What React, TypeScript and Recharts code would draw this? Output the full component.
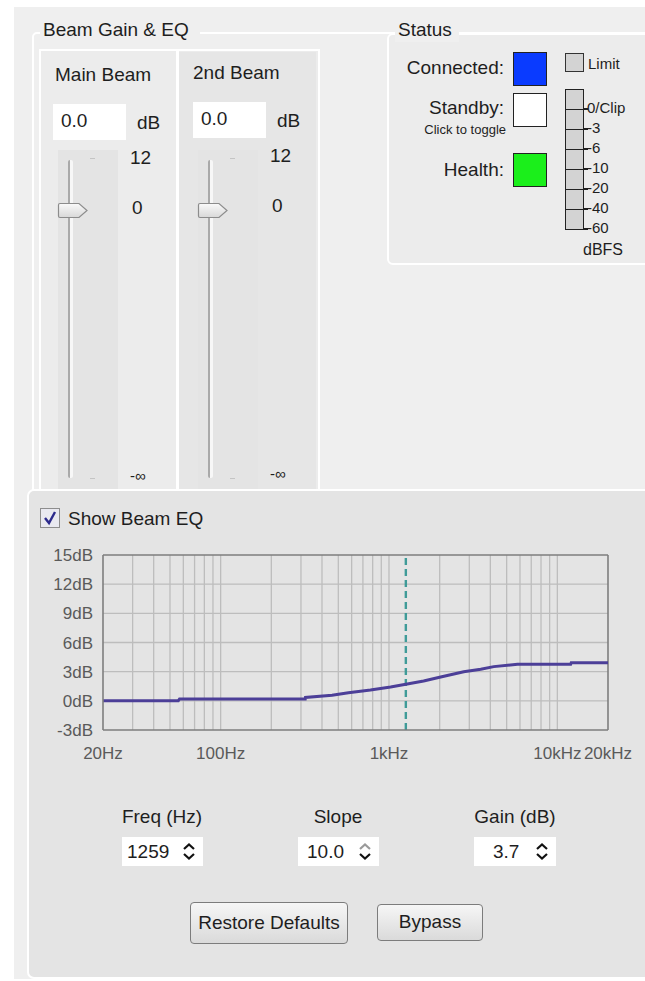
import { LineChart, Line, XAxis, YAxis, CartesianGrid, ReferenceLine } from 'recharts'

// EQ response
const freqHz = [20, 56, 57, 318, 319, 459, 574, 776, 1022, 1259, 1606, 2028, 2780, 3508, 4192, 5801, 12000, 12100, 20000]
const gainDb = [0, 0, 0.2, 0.2, 0.35, 0.57, 0.84, 1.11, 1.42, 1.7, 2.04, 2.45, 3.0, 3.24, 3.52, 3.76, 3.76, 3.93, 3.93]
const eqData = freqHz.map((f, i) => ({ freq: f, gain: gainDb[i] }))

const dbTicks = [-3, 0, 3, 6, 9, 12, 15]
const dbGrid = [0, 3, 6, 9, 12]
const hzTicks = [20, 100, 1000, 10000, 20000]
const hzTickLabels = ['20Hz', '100Hz', '1kHz', '10kHz', '20kHz']
const hzGrid = [30, 40, 50, 60, 70, 80, 90, 100, 200, 300, 400, 500, 600, 700, 800, 900, 1000, 2000, 3000, 4000, 5000, 6000, 7000, 8000, 9000, 10000]
const centerHz = 1259

const meterLabels = ['0/Clip', '-3', '-6', '-10', '-20', '-40', '-60']

const ink = '#1e1e1e'

const T = ({ x, y, size = 19, children, right = false, color = ink, w }: any) => (
  <div
    style={{
      position: 'absolute',
      top: y - size * 0.6,
      left: right ? undefined : x,
      right: right ? 645 - x : undefined,
      width: w,
      fontSize: size,
      lineHeight: `${size * 1.2}px`,
      color,
      whiteSpace: 'nowrap',
      textAlign: w ? 'center' : undefined,
    }}
  >
    {children}
  </div>
)

const Box = ({ x, y, w, h, style }: any) => (
  <div style={{ position: 'absolute', left: x, top: y, width: w, height: h, boxSizing: 'border-box', ...style }} />
)

const Thumb = ({ x, y }: any) => (
  <svg style={{ position: 'absolute', left: x, top: y }} width={33} height={17}>
    <defs>
      <linearGradient id="th" x1="0" y1="0" x2="0" y2="1">
        <stop offset="0" stopColor="#fafafa" />
        <stop offset="1" stopColor="#d8d8d8" />
      </linearGradient>
    </defs>
    <path d="M3 1.5 H22 L30 8.5 L22 15.5 H3 Q1.5 15.5 1.5 14 V3 Q1.5 1.5 3 1.5 Z" fill="url(#th)" stroke="#8c8c8c" strokeWidth={1.2} />
  </svg>
)

const Slider = ({ x, y }: any) => (
  <>
    <Box x={x} y={y} w={60} h={340} style={{ background: '#e4e4e4' }} />
    <Box x={x + 10} y={y + 10} w={5} h={318} style={{ background: '#f7f7f7', borderLeft: '2px solid #a9a9a9', borderRadius: 2 }} />
    <Box x={x + 32} y={y + 8} w={5} h={1} style={{ background: '#c4c4c4' }} />
    <Box x={x + 32} y={y + 328} w={5} h={1} style={{ background: '#c4c4c4' }} />
    <Thumb x={x - 1} y={y + 52} />
  </>
)

const Spin = ({ x, y, upDim = false }: any) => (
  <svg style={{ position: 'absolute', left: x, top: y }} width={14} height={22}>
    <polyline points="2,8 7,3.5 12,8" fill="none" stroke={upDim ? '#9a9a9a' : '#111'} strokeWidth={2.2} />
    <polyline points="2,13 7,17.5 12,13" fill="none" stroke="#111" strokeWidth={2.2} />
  </svg>
)

const Button = ({ x, y, w, h, label }: any) => (
  <div
    style={{
      position: 'absolute',
      left: x,
      top: y,
      width: w,
      height: h,
      boxSizing: 'border-box',
      border: '1.5px solid #7c7c7c',
      borderRadius: 4,
      background: 'linear-gradient(#f6f6f6, #dadada)',
      fontSize: 19,
      lineHeight: `${h - 3}px`,
      textAlign: 'center',
      color: ink,
    }}
  >
    {label}
  </div>
)

const EqChart = () => (
  <LineChart width={600} height={230} data={eqData} margin={{ top: 15, right: 32, left: 0, bottom: 0 }}>
    <CartesianGrid stroke="#bdbdbd" strokeWidth={1.3} verticalValues={hzGrid} horizontalValues={dbGrid} />
    <XAxis
      dataKey="freq"
      type="number"
      scale="log"
      domain={[20, 20000]}
      ticks={hzTicks}
      tickFormatter={(v: number) => hzTickLabels[hzTicks.indexOf(v)]}
      tickLine={false}
      tickSize={6}
      tickMargin={11}
      height={40}
      interval={0}
      axisLine={{ stroke: '#7e7e7e', strokeWidth: 1.6 }}
      tick={{ fill: '#5a5a5a', fontSize: 17 }}
      allowDataOverflow
    />
    <YAxis
      type="number"
      domain={[-3, 15]}
      ticks={dbTicks}
      tickFormatter={(v: number) => `${v}dB`}
      tickLine={false}
      tickSize={6}
      tickMargin={4}
      width={63}
      interval={0}
      axisLine={{ stroke: '#7e7e7e', strokeWidth: 1.6 }}
      tick={{ fill: '#5a5a5a', fontSize: 17 }}
    />
    <ReferenceLine y={15} stroke="#7e7e7e" strokeWidth={1.6} />
    <ReferenceLine x={20000} stroke="#7e7e7e" strokeWidth={1.6} />
    <ReferenceLine x={centerHz} stroke="#3f9b98" strokeWidth={2.4} strokeDasharray="7 4" />
    <Line type="linear" dataKey="gain" stroke="#4c3f98" strokeWidth={3} dot={false} isAnimationActive={false} />
  </LineChart>
)

export default function App() {
  return (
    <div
      style={{
        position: 'absolute',
        left: 0,
        top: 0,
        width: 645,
        height: 981,
        background: '#ffffff',
        overflow: 'hidden',
        fontFamily: '"Liberation Sans", Arial, sans-serif',
      }}
    >
      {/* window body */}
      <Box x={14} y={7} w={640} h={972} style={{ background: '#efefef' }} />

      {/* Beam Gain & EQ group */}
      <Box x={32} y={32} w={640} h={470} style={{ border: '2px solid #fff', borderRadius: 5 }} />
      <div style={{ position: 'absolute', left: 40, top: 20, width: 160, height: 22, background: '#efefef' }} />
      <T x={43} y={30}>Beam Gain &amp; EQ</T>

      {/* beam panels */}
      <Box x={39} y={49} w={281} h={443} style={{ border: '2px solid #fff', background: '#ececec' }} />
      <Box x={176} y={49} w={3} h={443} style={{ background: '#fff' }} />
      <Box x={179} y={52} w={137} h={438} style={{ background: '#e6e6e6' }} />

      <T x={55} y={75}>Main Beam</T>
      <Box x={53} y={104} w={73} h={36} style={{ background: '#fff' }} />
      <T x={61} y={121}>0.0</T>
      <T x={137} y={123}>dB</T>
      <Slider x={58} y={150} />
      <T x={130} y={158}>12</T>
      <T x={132} y={208}>0</T>
      <T x={130} y={476} size={15}>-∞</T>

      <T x={193} y={73}>2nd Beam</T>
      <Box x={193} y={102} w={73} h={36} style={{ background: '#fff' }} />
      <T x={201} y={119}>0.0</T>
      <T x={277} y={121}>dB</T>
      <Slider x={198} y={150} />
      <T x={270} y={156}>12</T>
      <T x={272} y={206}>0</T>
      <T x={270} y={474} size={15}>-∞</T>

      {/* Status group */}
      <Box x={387} y={33} w={300} h={232} style={{ border: '2px solid #fff', borderRadius: 6, background: '#ececec' }} />
      <div style={{ position: 'absolute', left: 395, top: 20, width: 64, height: 22, background: '#efefef' }} />
      <T x={398} y={30}>Status</T>

      <T x={504} y={68} right>Connected:</T>
      <Box x={513} y={52} w={34} h={34} style={{ background: '#0a3bff', border: '1.5px solid #222' }} />
      <T x={504} y={108} right>Standby:</T>
      <T x={506} y={130} size={13} right>Click to toggle</T>
      <Box x={513} y={93} w={34} h={34} style={{ background: '#fff', border: '1.5px solid #222' }} />
      <T x={504} y={170} right>Health:</T>
      <Box x={513} y={153} w={34} h={34} style={{ background: '#1bef1b', border: '1.5px solid #222' }} />

      <Box x={565} y={53} w={19} h={19} style={{ background: '#d3d3d3', border: '1.5px solid #333' }} />
      <T x={588} y={64} size={15}>Limit</T>
      {meterLabels.map((lab, i) => (
        <div key={lab}>
          <Box x={565} y={89 + i * 20} w={19} h={21} style={{ background: '#d3d3d3', border: '1.5px solid #222' }} />
          <Box x={583} y={108 + i * 20} w={5} h={2} style={{ background: '#222' }} />
          <T x={587} y={108 + i * 20} size={15}>{lab}</T>
        </div>
      ))}
      <T x={583} y={250} size={16}>dBFS</T>

      {/* EQ panel */}
      <Box x={27} y={489} w={640} h={490} style={{ border: '2.5px solid #fff', borderRadius: 7, background: '#e4e4e4' }} />
      <Box x={40} y={508} w={20} h={20} style={{ border: '1.5px solid #8d8d8d', background: '#e9e9f0' }} />
      <svg style={{ position: 'absolute', left: 42, top: 510 }} width={16} height={16}>
        <polyline points="3,8 7,13 13,2" fill="none" stroke="#2c2a8c" strokeWidth={2.4} />
      </svg>
      <T x={68} y={519}>Show Beam EQ</T>

      <div style={{ position: 'absolute', left: 40, top: 540 }}>
        <EqChart />
      </div>

      <T x={100} y={817} w={124}>Freq (Hz)</T>
      <Box x={122} y={837} w={81} h={29} style={{ background: '#fff' }} />
      <T x={127} y={852}>1259</T>
      <Spin x={182} y={841} />

      <T x={276} y={817} w={124}>Slope</T>
      <Box x={298} y={837} w={81} h={29} style={{ background: '#fff' }} />
      <T x={307} y={852}>10.0</T>
      <Spin x={358} y={841} upDim />

      <T x={453} y={817} w={124}>Gain (dB)</T>
      <Box x={474} y={837} w={82} h={29} style={{ background: '#fff' }} />
      <T x={493} y={852}>3.7</T>
      <Spin x={535} y={841} />

      <Button x={190} y={902} w={158} h={42} label="Restore Defaults" />
      <Button x={377} y={904} w={106} h={37} label="Bypass" />
    </div>
  )
}
